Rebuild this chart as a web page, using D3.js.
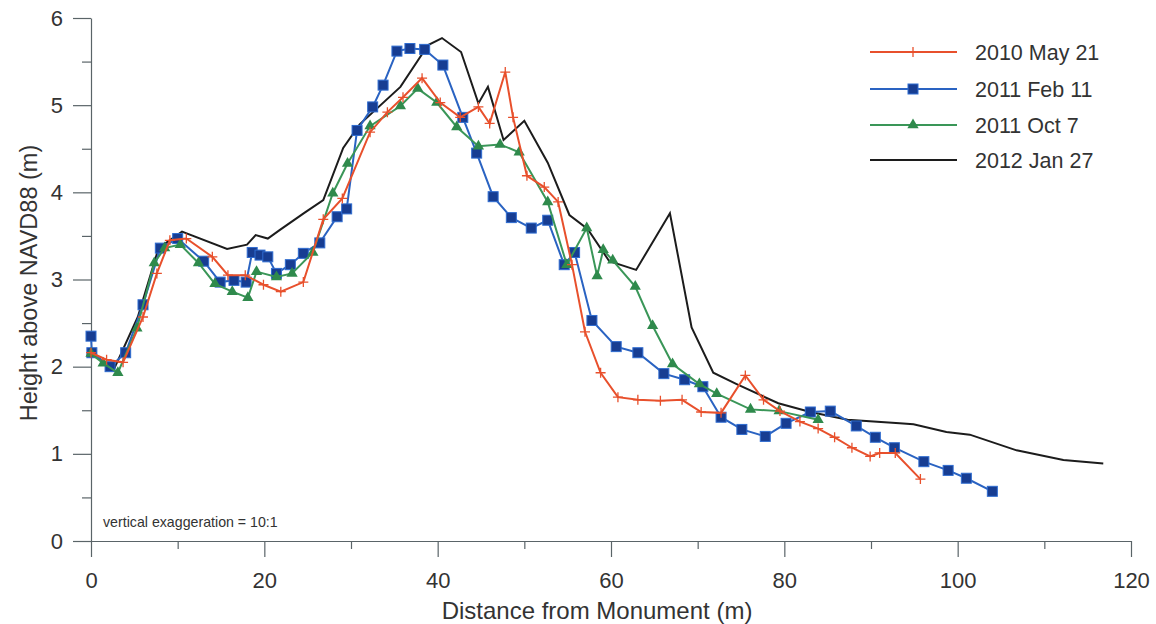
<!DOCTYPE html>
<html><head><meta charset="utf-8">
<script src="https://cdn.jsdelivr.net/npm/d3@7"></script>
<style>body{margin:0;background:#fff;} svg{display:block;}</style>
</head><body>
<svg id="c" width="1156" height="624"></svg>
<script>
// ---- data ----
const seriesNames = ["2010 May 21", "2011 Feb 11", "2011 Oct 7", "2012 Jan 27"];

const may2010X = [0, 1.8, 3.7, 6.0, 7.6, 9.1, 11.0, 14.0, 15.8, 17.8, 19.9, 21.9, 24.5, 26.8, 29.0, 32.2, 34.2, 36.0, 38.2, 40.3, 42.6, 44.7, 46.0, 47.8, 48.7, 50.3, 52.3, 53.9, 55.5, 57.0, 58.8, 60.8, 63.1, 65.7, 68.2, 70.4, 72.7, 75.5, 77.6, 79.5, 81.8, 83.9, 85.8, 87.8, 89.9, 91.0, 92.8, 95.7];
const may2010Y = [2.16, 2.08, 2.05, 2.57, 3.07, 3.45, 3.47, 3.26, 3.05, 3.05, 2.94, 2.86, 2.97, 3.69, 3.93, 4.69, 4.92, 5.09, 5.31, 5.03, 4.86, 4.98, 4.79, 5.38, 4.86, 4.19, 4.06, 3.89, 3.17, 2.40, 1.93, 1.65, 1.62, 1.61, 1.62, 1.48, 1.47, 1.90, 1.62, 1.49, 1.37, 1.29, 1.19, 1.07, 0.97, 1.01, 1.01, 0.71];

const feb2011X = [0, 0.1, 2.2, 4.0, 6.0, 8.0, 10.0, 13.0, 14.9, 16.5, 17.9, 18.6, 19.5, 20.4, 21.4, 23.0, 24.5, 26.4, 28.4, 29.5, 30.7, 32.5, 33.7, 35.3, 36.8, 38.5, 40.6, 42.9, 44.5, 46.4, 48.5, 50.8, 52.7, 54.6, 55.8, 57.8, 60.6, 63.1, 66.1, 68.5, 70.6, 72.7, 75.1, 77.8, 80.2, 83.0, 85.3, 88.3, 90.5, 92.7, 96.1, 98.9, 101.0, 104.0];
const feb2011Y = [2.35, 2.16, 2.00, 2.16, 2.71, 3.36, 3.47, 3.21, 2.97, 2.99, 2.97, 3.31, 3.28, 3.26, 3.07, 3.17, 3.30, 3.42, 3.72, 3.81, 4.71, 4.98, 5.23, 5.62, 5.65, 5.64, 5.46, 4.86, 4.45, 3.95, 3.71, 3.59, 3.68, 3.17, 3.31, 2.53, 2.23, 2.16, 1.92, 1.85, 1.77, 1.42, 1.28, 1.20, 1.35, 1.48, 1.49, 1.32, 1.19, 1.07, 0.91, 0.81, 0.72, 0.57];

const oct2011X = [0, 1.4, 3.1, 5.3, 7.3, 8.5, 10.3, 12.4, 14.3, 16.3, 18.1, 19.1, 21.4, 23.2, 25.6, 27.9, 29.6, 32.2, 35.7, 37.7, 39.9, 42.2, 44.7, 47.2, 49.4, 52.7, 54.9, 57.2, 58.4, 59.1, 60.2, 62.8, 64.8, 67.1, 70.2, 72.2, 76.1, 79.4, 83.9];
const oct2011Y = [2.15, 2.04, 1.93, 2.44, 3.19, 3.36, 3.40, 3.19, 2.95, 2.86, 2.79, 3.09, 3.03, 3.07, 3.31, 3.99, 4.33, 4.76, 4.99, 5.19, 5.03, 4.75, 4.53, 4.55, 4.46, 3.89, 3.17, 3.59, 3.04, 3.34, 3.22, 2.92, 2.47, 2.03, 1.80, 1.69, 1.51, 1.49, 1.39];

const jan2012X = [0, 2.6, 5.4, 7.8, 10.5, 15.7, 18.0, 19.0, 20.4, 21.8, 24.7, 26.8, 29.1, 31.0, 35.7, 38.9, 40.5, 42.7, 44.7, 45.8, 47.6, 50.0, 52.7, 55.2, 57.3, 59.8, 62.9, 66.8, 69.3, 71.8, 74.5, 79.3, 83.0, 87.3, 93.3, 94.9, 98.7, 101.4, 106.8, 112.2, 116.8];
const jan2012Y = [2.17, 1.96, 2.57, 3.36, 3.55, 3.35, 3.40, 3.51, 3.47, 3.57, 3.77, 3.91, 4.51, 4.78, 5.21, 5.69, 5.77, 5.61, 5.02, 5.21, 4.60, 4.82, 4.34, 3.74, 3.58, 3.21, 3.11, 3.76, 2.45, 1.93, 1.80, 1.58, 1.48, 1.39, 1.35, 1.34, 1.25, 1.22, 1.04, 0.93, 0.89];

const xTicks = [0, 20, 40, 60, 80, 100, 120];
const xMinorTicks = [10, 30, 50, 70, 90, 110];
const yTicks = [0, 1, 2, 3, 4, 5, 6];
const yMinorTicks = [0.5, 1.5, 2.5, 3.5, 4.5, 5.5];

// ---- chart ----
(function () {
const svg = d3.select("#c");
const mLeft = 91, mRight = 1131, mTop = 18, mBottom = 541;
const x = d3.scaleLinear().domain([0, 120]).range([mLeft, mRight]);
const y = d3.scaleLinear().domain([0, 6]).range([mBottom, mTop]);
const axisColor = "#5a6468";
const font = "'Liberation Sans', Arial, sans-serif";

// axes
const gx = svg.append("g").attr("transform", `translate(0,${mBottom})`)
  .call(d3.axisBottom(x).tickValues(xTicks).tickSize(16).tickSizeOuter(0).tickPadding(15).tickFormat(d3.format("d")));
const gxm = svg.append("g").attr("transform", `translate(0,${mBottom})`)
  .call(d3.axisBottom(x).tickValues(xMinorTicks).tickSize(8).tickSizeOuter(0).tickFormat(""));
gxm.select(".domain").remove();
const gy = svg.append("g").attr("transform", `translate(${mLeft},0)`)
  .call(d3.axisLeft(y).tickValues(yTicks).tickSize(18).tickSizeOuter(0).tickPadding(10).tickFormat(d3.format("d")));
const gym = svg.append("g").attr("transform", `translate(${mLeft},0)`)
  .call(d3.axisLeft(y).tickValues(yMinorTicks).tickSize(9).tickSizeOuter(0).tickFormat(""));
gym.select(".domain").remove();
svg.selectAll(".domain, .tick line").attr("stroke", axisColor).attr("stroke-width", 1.2);
gx.selectAll("text").attr("font-family", font).attr("font-size", 22).attr("fill", "#333");
gy.selectAll("text").attr("font-family", font).attr("font-size", 22).attr("fill", "#333");

// axis titles
svg.append("text").attr("x", 597).attr("y", 619).attr("text-anchor", "middle")
  .attr("font-family", font).attr("font-size", 24).attr("fill", "#333")
  .text("Distance from Monument (m)");
svg.append("text").attr("transform", `translate(37,283) rotate(-90)`).attr("text-anchor", "middle")
  .attr("font-family", font).attr("font-size", 23.5).attr("fill", "#333")
  .text("Height above NAVD88 (m)");

svg.append("text").attr("x", 103).attr("y", 527)
  .attr("font-family", font).attr("font-size", 14.2).attr("fill", "#333")
  .text("vertical exaggeration = 10:1");

const line = d3.line().x(d => x(d[0])).y(d => y(d[1]));
const zip = (a, b) => a.map((v, i) => [v, b[i]]);

const colors = { red: "#e8502c", blue: "#2a63c2", green: "#3a9658", black: "#1c1c1c" };

// black
svg.append("path").datum(zip(jan2012X, jan2012Y)).attr("d", line)
  .attr("fill", "none").attr("stroke", colors.black).attr("stroke-width", 2);

// blue
const blueData = zip(feb2011X, feb2011Y);
svg.append("path").datum(blueData).attr("d", line)
  .attr("fill", "none").attr("stroke", colors.blue).attr("stroke-width", 2);
svg.append("g").selectAll("rect").data(blueData).join("rect")
  .attr("x", d => x(d[0]) - 5).attr("y", d => y(d[1]) - 5).attr("width", 10).attr("height", 10)
  .attr("fill", "#173d92").attr("stroke", "#2f6cd0").attr("stroke-width", 1);

// green
const greenData = zip(oct2011X, oct2011Y);
svg.append("path").datum(greenData).attr("d", line)
  .attr("fill", "none").attr("stroke", colors.green).attr("stroke-width", 2);
const tri = d3.symbol().type(d3.symbolTriangle).size(55);
svg.append("g").selectAll("path").data(greenData).join("path")
  .attr("d", tri).attr("transform", d => `translate(${x(d[0])},${y(d[1])})`)
  .attr("fill", "#2f8a4c");

// red
const redData = zip(may2010X, may2010Y);
svg.append("path").datum(redData).attr("d", line)
  .attr("fill", "none").attr("stroke", colors.red).attr("stroke-width", 2);
svg.append("g").selectAll("path").data(redData).join("path")
  .attr("d", d => { const cx = x(d[0]), cy = y(d[1]); return `M${cx - 5},${cy}H${cx + 5}M${cx},${cy - 5}V${cy + 5}`; })
  .attr("stroke", colors.red).attr("stroke-width", 1.3).attr("fill", "none");

// legend
const legY = [52, 89, 125, 160];
const lx0 = 870, lx1 = 957, lmid = 913;
const lg = svg.append("g");
seriesNames.forEach((name, i) => {
  const col = [colors.red, colors.blue, colors.green, colors.black][i];
  lg.append("line").attr("x1", lx0).attr("x2", lx1).attr("y1", legY[i]).attr("y2", legY[i])
    .attr("stroke", col).attr("stroke-width", 2);
  lg.append("text").attr("x", 975).attr("y", legY[i] + 7.5)
    .attr("font-family", font).attr("font-size", 21.5).attr("fill", "#333")
    .text(name);
});
lg.append("path").attr("d", `M${lmid},${legY[0] - 5}V${legY[0] + 5}`).attr("stroke", colors.red).attr("stroke-width", 1.3);
lg.append("rect").attr("x", lmid - 5).attr("y", legY[1] - 5).attr("width", 10).attr("height", 10)
  .attr("fill", "#173d92").attr("stroke", "#2f6cd0");
lg.append("path").attr("d", tri).attr("transform", `translate(${lmid},${legY[2]})`).attr("fill", "#2f8a4c");
})();
</script>
</body></html>
